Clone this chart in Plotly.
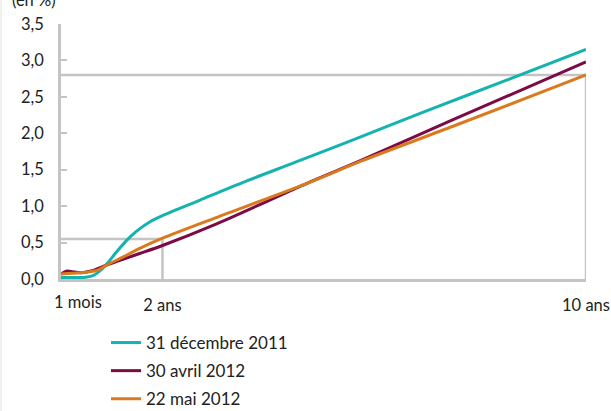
#!/usr/bin/env python
# coding: utf-8

# Courbe des taux : trois dates comparées (en %)

import plotly.graph_objects as go

# Maturités en années (1 mois = 1/12)
maturites_dec = [0.083, 0.3, 0.55, 0.7, 0.8, 0.94, 1.13, 1.31, 1.5, 1.75, 2.0, 2.7, 3.5, 4.5, 5.6, 7.0, 8.5, 10.0]
taux_dec = [0.02, 0.02, 0.025, 0.05, 0.10, 0.20, 0.37, 0.52, 0.65, 0.78, 0.87, 1.08, 1.32, 1.60, 1.91, 2.31, 2.73, 3.15]

maturites_avr = [0.083, 0.2, 0.3, 0.45, 0.65, 0.94, 1.25, 1.57, 2.0, 3.0, 4.72, 5.76, 7.5, 10.0]
taux_avr = [0.07, 0.11, 0.10, 0.085, 0.11, 0.19, 0.27, 0.35, 0.46, 0.75, 1.31, 1.63, 2.19, 2.98]

maturites_mai = [0.083, 0.3, 0.6, 0.8, 0.94, 1.25, 1.57, 2.0, 3.0, 4.72, 5.76, 7.5, 10.0]
taux_mai = [0.07, 0.08, 0.095, 0.13, 0.19, 0.30, 0.42, 0.56, 0.84, 1.31, 1.62, 2.10, 2.80]

# Repères gris (taux au 22 mai 2012 à 2 ans et 10 ans)
repere_maturites = [2.0, 10.0]
repere_taux = [0.55, 2.8]

# Axe des abscisses
tick_vals = [2.0, 10.0]
tick_textes = ["2 ans", "10 ans"]
debut = 0.083
label_debut = "1 mois"

series = [
    ("31 décembre 2011", maturites_dec, taux_dec, "#14b3b0"),
    ("30 avril 2012", maturites_avr, taux_avr, "#7b0a45"),
    ("22 mai 2012", maturites_mai, taux_mai, "#da7a1e"),
]

GRIS = "#c4c4c4"
POLICE = "Lato"
TAILLE = 16.5

fig = go.Figure()

# Repères : horizontale jusqu'à l'axe des y puis verticale jusqu'à l'axe des x
for m, t in zip(repere_maturites, repere_taux):
    fig.add_trace(go.Scatter(
        x=[debut, m, m],
        y=[t, t, 0],
        mode="lines",
        line=dict(color=GRIS, width=2.5),
        showlegend=False,
        hoverinfo="skip",
    ))

for i, (nom, x, y, couleur) in enumerate(series):
    fig.add_trace(go.Scatter(
        x=x,
        y=y,
        mode="lines",
        line=dict(color=couleur, width=3, shape="spline", smoothing=0.8),
        name=nom,
        legendgroup=str(i),
    ))

L, R, T, B = 61, 25, 24, 132
W, H = 611, 411
pw = W - L - R
ph = H - T - B

fig.update_layout(
    width=W,
    height=H,
    margin=dict(l=L, r=R, t=T, b=B, autoexpand=False),
    paper_bgcolor="white",
    plot_bgcolor="white",
    separators=", ",
    font=dict(family=POLICE, size=TAILLE, color="#222222"),
    legend=dict(
        x=(106 - L) / pw,
        y=-(325 - T - ph) / ph,
        xanchor="left",
        yanchor="top",
        tracegroupgap=3,
        font=dict(size=17),
        bgcolor="rgba(0,0,0,0)",
    ),
    xaxis=dict(
        range=[debut, 10.0],
        tickvals=tick_vals,
        ticktext=tick_textes,
        ticks="outside",
        ticklen=9,
        tickcolor="rgba(0,0,0,0)",
        showline=True,
        linecolor=GRIS,
        linewidth=2.5,
        showgrid=False,
        zeroline=False,
    ),
    yaxis=dict(
        range=[0, 3.5],
        dtick=0.5,
        tickformat=".1f",
        ticks="inside",
        ticklen=6,
        tickwidth=2,
        tickcolor=GRIS,
        showline=True,
        linecolor=GRIS,
        linewidth=2.5,
        showgrid=False,
        zeroline=False,
        ticklabelstandoff=11,
    ),
    showlegend=True,
)

# Libellé "1 mois" décalé vers la droite comme dans l'original
fig.add_annotation(
    x=debut, y=0, xref="x", yref="y",
    text=label_debut, showarrow=False,
    xanchor="left", yanchor="top",
    xshift=-9, yshift=-11,
    font=dict(family=POLICE, size=TAILLE, color="#222222"),
)

# Unité, coupée en haut de l'image
fig.add_annotation(
    x=-(L - 10) / pw, y=1, xref="paper", yref="paper",
    text="(en %)", showarrow=False,
    xanchor="left", yanchor="middle", yshift=T,
    font=dict(family=POLICE, size=TAILLE, color="#222222"),
)

# Filet gauche du cadre
fig.add_shape(
    type="line", xref="paper", yref="paper",
    x0=-(L - 1) / pw, x1=-(L - 1) / pw,
    y0=-B / ph, y1=1 + T / ph,
    line=dict(color="#e2e2e2", width=1),
)

# La page n'a pas de marge autour du graphique
fig.write_html(
    "out.html",
    config={"displayModeBar": False},
    post_script="document.body.style.margin='0';",
)
